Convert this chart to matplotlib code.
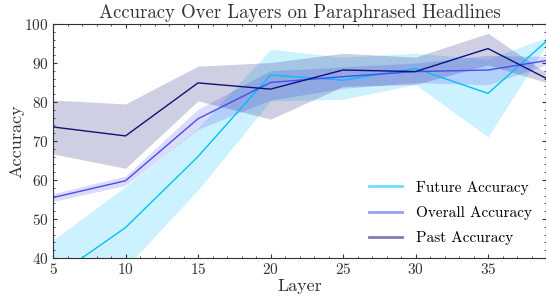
import matplotlib
matplotlib.use("Agg")
import matplotlib.pyplot as plt
from matplotlib.ticker import MultipleLocator
from matplotlib.lines import Line2D

plt.rcParams['font.family'] = 'serif'
plt.rcParams['font.serif'] = ['cmr10']
plt.rcParams['axes.formatter.use_mathtext'] = True
plt.rcParams['mathtext.fontset'] = 'cm'

layers = [5, 10, 15, 20, 25, 30, 35, 39]

future_mean = [34.8, 47.8, 66.0, 86.9, 85.6, 88.6, 82.2, 95.5]
future_low = [25.0, 37.5, 57.4, 80.3, 80.7, 84.5, 71.0, 94.5]
future_high = [44.6, 58.3, 73.3, 93.5, 91.5, 92.5, 91.0, 96.5]

overall_mean = [55.5, 59.8, 75.7, 85.0, 86.5, 87.8, 88.2, 90.6]
overall_low = [54.5, 58.6, 73.0, 80.5, 83.5, 85.0, 84.4, 89.5]
overall_high = [56.5, 61.0, 78.2, 88.0, 89.0, 90.0, 92.0, 91.7]

past_mean = [73.6, 71.3, 84.9, 83.3, 88.2, 87.8, 93.7, 86.1]
past_low = [66.7, 63.0, 80.3, 75.6, 84.0, 84.5, 89.5, 85.0]
past_high = [80.5, 79.5, 89.2, 90.1, 92.5, 91.5, 97.6, 87.5]

labels = ['Future Accuracy', 'Overall Accuracy', 'Past Accuracy']
colors = ['#00bfff', '#4b4bf0', '#10107a']

fig = plt.figure(figsize=(5.46, 2.98), dpi=100)
ax = fig.add_axes([53/546, 40/298, 493/546, 234/298])

series = [(future_mean, future_low, future_high),
          (overall_mean, overall_low, overall_high),
          (past_mean, past_low, past_high)]
for (m, lo, hi), c, lab in zip(series, colors, labels):
    ax.fill_between(layers, lo, hi, color=c, alpha=0.2, linewidth=0)
    ax.plot(layers, m, color=c, linewidth=1.0, label=lab)

ax.set_xlim(5, 39)
ax.set_ylim(40, 100)
ax.xaxis.set_major_locator(MultipleLocator(5))
ax.xaxis.set_minor_locator(MultipleLocator(1))
ax.yaxis.set_major_locator(MultipleLocator(10))
ax.yaxis.set_minor_locator(MultipleLocator(2))
ax.tick_params(which='both', direction='in', top=True, right=True, labelsize=11, colors='#333333', pad=3)
ax.tick_params(which='major', length=3)
ax.tick_params(which='minor', length=1.5)
for s in ax.spines.values():
    s.set_color('#333333')

ax.set_xlabel('Layer', fontsize=13, color='#333333', labelpad=1)
ax.set_ylabel('Accuracy', fontsize=13, color='#333333', labelpad=0)
ax.set_title('Accuracy Over Layers on Paraphrased Headlines', fontsize=13.5, color='#333333', pad=4)

handles = [Line2D([0], [0], color=c, linewidth=2, alpha=0.55) for c in colors]
ax.legend(handles, labels, loc='lower right', frameon=False, fontsize=11,
          handlelength=2.2, handletextpad=0.9, labelspacing=0.75,
          bbox_to_anchor=(1.0, -0.005))

fig.savefig('out.png', dpi=100)
